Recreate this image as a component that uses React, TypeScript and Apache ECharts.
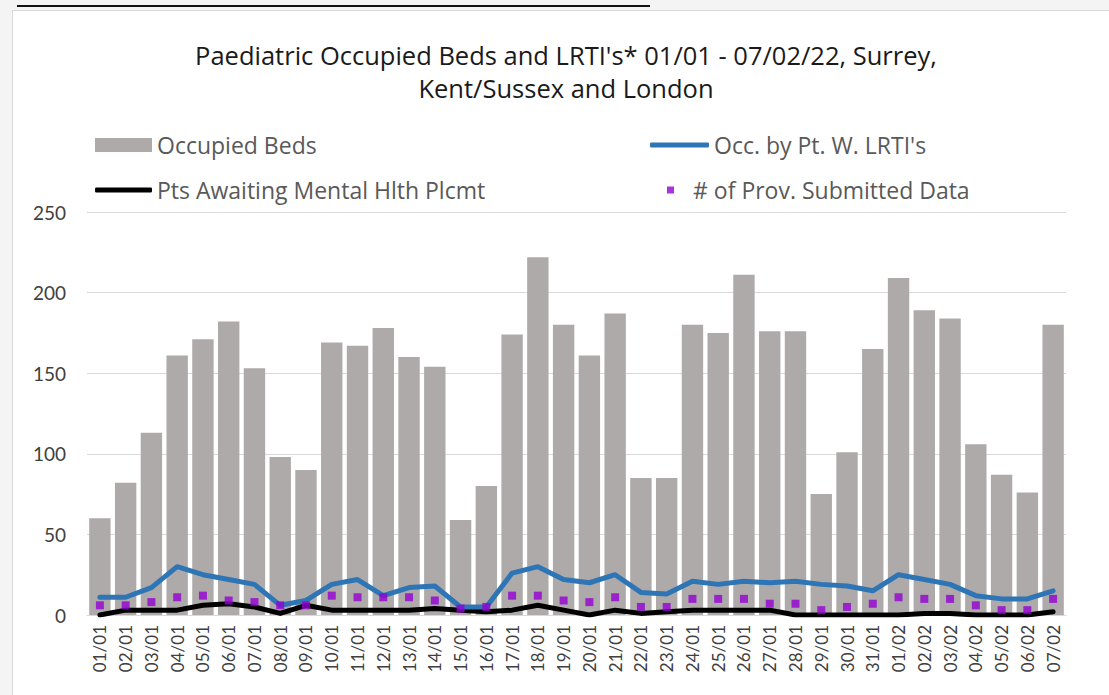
import React, { useEffect, useRef } from "react";
import * as echarts from "echarts";

const categories = [
  "01/01", "02/01", "03/01", "04/01", "05/01", "06/01", "07/01", "08/01", "09/01", "10/01",
  "11/01", "12/01", "13/01", "14/01", "15/01", "16/01", "17/01", "18/01", "19/01", "20/01",
  "21/01", "22/01", "23/01", "24/01", "25/01", "26/01", "27/01", "28/01", "29/01", "30/01",
  "31/01", "01/02", "02/02", "03/02", "04/02", "05/02", "06/02", "07/02",
];

const occupiedBeds = [
  60, 82, 113, 161, 171, 182, 153, 98, 90, 169,
  167, 178, 160, 154, 59, 80, 174, 222, 180, 161,
  187, 85, 85, 180, 175, 211, 176, 176, 75, 101,
  165, 209, 189, 184, 106, 87, 76, 180,
];

const occByLrti = [
  11, 11, 17, 30, 25, 22, 19, 6, 9, 19,
  22, 12, 17, 18, 5, 5, 26, 30, 22, 20,
  25, 14, 13, 21, 19, 21, 20, 21, 19, 18,
  15, 25, 22, 19, 12, 10, 10, 15,
];

const awaitingMentalHealth = [
  0, 3, 3, 3, 6, 7, 5, 1, 6, 3,
  3, 3, 3, 4, 3, 2, 3, 6, 3, 0,
  3, 1, 2, 3, 3, 3, 3, 0, 0, 0,
  0, 0, 1, 1, 0, 0, 0, 2,
];

const provSubmitted = [
  6, 6, 8, 11, 12, 9, 8, 6, 6, 12,
  11, 11, 11, 9, 4, 5, 12, 12, 9, 8,
  11, 5, 5, 10, 10, 10, 7, 7, 3, 5,
  7, 11, 10, 10, 6, 3, 3, 10,
];

const titleText =
  "Paediatric Occupied Beds and LRTI's* 01/01 - 07/02/22, Surrey,\nKent/Sussex and London";

const FONT = "'Open Sans', Lato, sans-serif";
const AXIS_FONT = "Lato, 'Open Sans', sans-serif";
const GREY_TEXT = "#595959";

export default function App() {
  const ref = useRef<HTMLDivElement>(null);

  useEffect(() => {
    if (!ref.current) return;
    const chart = echarts.init(ref.current, null, { renderer: "svg" });
    const legendText = { color: GREY_TEXT, fontSize: 23, fontFamily: FONT, lineHeight: 24 };
    chart.setOption({
      animation: false,
      backgroundColor: "transparent",
      textStyle: { fontFamily: FONT },
      graphic: [
        {
          type: "text",
          x: 566,
          y: 38,
          style: {
            text: titleText,
            textAlign: "center",
            fill: "#1a1a1a",
            fontSize: 25.5,
            fontFamily: FONT,
            lineHeight: 33,
          },
        },
      ],
      legend: [
        {
          data: ["Occupied Beds"],
          left: 95,
          top: 133,
          padding: 0,
          icon: "rect",
          itemWidth: 57,
          itemHeight: 14,
          textStyle: legendText,
        },
        {
          data: ["Occ. by Pt. W. LRTI's"],
          left: 650,
          top: 133,
          padding: 0,
          icon: "roundRect",
          itemWidth: 59,
          itemHeight: 5,
          textStyle: legendText,
        },
        {
          data: ["Pts Awaiting Mental Hlth Plcmt"],
          left: 95,
          top: 178,
          padding: 0,
          icon: "roundRect",
          itemWidth: 57,
          itemHeight: 5,
          textStyle: legendText,
        },
        {
          data: ["# of Prov. Submitted Data"],
          left: 667,
          top: 178,
          padding: 0,
          icon: "rect",
          itemWidth: 7,
          itemHeight: 7,
          textStyle: { ...legendText, padding: [0, 0, 0, 14] },
        },
      ],
      grid: { left: 87, right: 43, top: 212, bottom: 80, containLabel: false },
      xAxis: {
        type: "category",
        data: categories,
        axisLine: { show: true, lineStyle: { color: "#D9D9D9", width: 1 } },
        axisTick: { show: false },
        axisLabel: {
          rotate: 90,
          color: "#404040",
          fontSize: 17,
          fontFamily: AXIS_FONT,
          margin: 10,
          interval: 0,
        },
      },
      yAxis: {
        type: "value",
        min: 0,
        max: 250,
        interval: 50,
        axisLine: { show: false },
        axisTick: { show: false },
        splitLine: { lineStyle: { color: "#D9D9D9", width: 1 } },
        axisLabel: { color: "#404040", fontSize: 19, fontFamily: AXIS_FONT, margin: 21 },
      },
      series: [
        {
          name: "Occupied Beds",
          type: "bar",
          data: occupiedBeds,
          barCategoryGap: "17%",
          itemStyle: { color: "#AEAAAA" },
          z: 1,
        },
        {
          name: "Occ. by Pt. W. LRTI's",
          type: "line",
          data: occByLrti,
          symbol: "none",
          lineStyle: { color: "#2E75B6", width: 5, join: "round", cap: "round" },
          itemStyle: { color: "#2E75B6" },
          z: 3,
        },
        {
          name: "Pts Awaiting Mental Hlth Plcmt",
          type: "line",
          data: awaitingMentalHealth,
          symbol: "none",
          lineStyle: { color: "#000000", width: 5, join: "round", cap: "round" },
          itemStyle: { color: "#000000" },
          z: 2,
        },
        {
          name: "# of Prov. Submitted Data",
          type: "scatter",
          data: provSubmitted,
          symbol: "rect",
          symbolSize: 8,
          itemStyle: { color: "#9400D3" },
          z: 4,
        },
      ],
    });
    return () => chart.dispose();
  }, []);

  return (
    <div style={{ position: "fixed", left: 0, top: 0, width: 1109, height: 695, background: "#F4F4F4", overflow: "hidden" }}>
      <div style={{ position: "absolute", left: 17, top: 5, width: 633, height: 2, background: "#111" }} />
      <div
        style={{
          position: "absolute",
          left: 12,
          top: 10,
          width: 1100,
          height: 690,
          background: "#FFFFFF",
          border: "1px solid #D9D9D9",
        }}
      />
      <div ref={ref} style={{ position: "absolute", left: 0, top: 0, width: 1109, height: 695 }} />
    </div>
  );
}
